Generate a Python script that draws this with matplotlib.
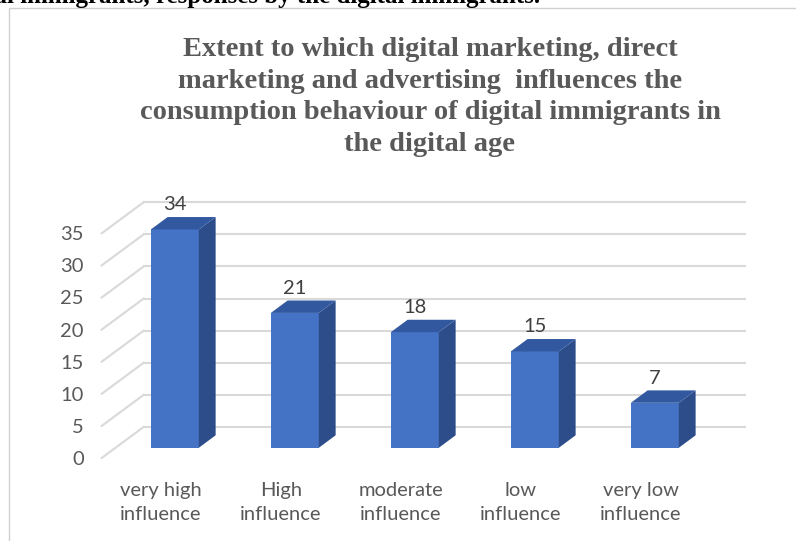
import matplotlib.pyplot as plt
from matplotlib.patches import Polygon, Rectangle
import numpy as np

categories = ["very high\ninfluence", "High\ninfluence", "moderate\ninfluence",
              "low\ninfluence", "very low\ninfluence"]
values = [34, 21, 18, 15, 7]
yticks = [0, 5, 10, 15, 20, 25, 30, 35]
title = ("Extent to which digital marketing, direct\n"
         "marketing and advertising  influences the\n"
         "consumption behaviour of digital immigrants in\n"
         "the digital age")
caption = "of digital immigrants, responses by the digital immigrants."

# depth vector of the 3D box (data units per full depth)
DX, DY = 0.35, 4.84
t_front, t_back = 0.33, 0.73   # bar front / back plane as fraction of depth
bar_w = 0.4

front_c = "#4472C4"
side_c = "#2C4D8A"
top_c = "#3259A0"
grid_c = "#D9D9D9"
text_c = "#595959"

fig = plt.figure(figsize=(7.96, 5.41), dpi=100)
ax = fig.add_axes([101.7 / 796, 83 / 541, 601.3 / 796, 224.7 / 541])
ax.set_xlim(-0.494, 4.517)
ax.set_ylim(0, 35)
for s in ax.spines.values():
    s.set_visible(False)

x0, x1 = ax.get_xlim()
# back wall grid + diagonal side lines
for v in yticks:
    ax.plot([x0 + DX, x1 + DX], [v + DY, v + DY], color=grid_c, lw=1.5,
            clip_on=False, zorder=1)
    ax.plot([x0, x0 + DX], [v, v + DY], color=grid_c, lw=1.5,
            clip_on=False, zorder=1)

x = np.arange(len(values))
for xi, v in zip(x, values):
    ox, oy = DX * t_front, DY * t_front
    bx, by = DX * (t_back - t_front), DY * (t_back - t_front)
    l, r = xi - bar_w / 2 + ox, xi + bar_w / 2 + ox
    ax.add_patch(Rectangle((l, oy), r - l, v, facecolor=front_c,
                           edgecolor="none", clip_on=False, zorder=3))
    ax.add_patch(Polygon([(r, oy), (r + bx, oy + by), (r + bx, oy + v + by), (r, oy + v)],
                         facecolor=side_c, edgecolor="none", clip_on=False, zorder=3))
    ax.add_patch(Polygon([(l, oy + v), (r, oy + v), (r + bx, oy + v + by), (l + bx, oy + v + by)],
                         facecolor=top_c, edgecolor="none", clip_on=False, zorder=3))
    ax.text(xi + ox, oy + v + by + 0.6, str(v), ha="center", va="bottom",
            fontsize=14.5, color="#404040", family="Lato", clip_on=False, zorder=4)

ax.set_yticks(yticks)
ax.set_yticklabels([str(v) for v in yticks], fontsize=14.5, color=text_c, family="Lato")
ax.set_xticks(x)
ax.set_xticklabels(categories, fontsize=14.5, color=text_c, family="Lato",
                   linespacing=1.56)
ax.tick_params(axis="y", length=0, pad=13)
ax.tick_params(axis="x", length=0, pad=17)

fig.text(430 / 796, 1 - 97 / 541, title, ha="center", va="center",
         fontsize=20.5, fontweight="bold", family="Liberation Serif",
         color=text_c, linespacing=1.35)

fig.text(540 / 796, 1 - 3 / 541, caption, ha="right", va="baseline",
         fontsize=18, fontweight="bold", family="Liberation Serif", color="black")

# chart frame
fig.add_artist(Rectangle((9 / 796, -0.1), 1.2, 1 - 7.5 / 541 + 0.1,
                         transform=fig.transFigure, fill=False,
                         edgecolor="#D0D0D0", lw=1))

fig.savefig("out.png", dpi=100)
